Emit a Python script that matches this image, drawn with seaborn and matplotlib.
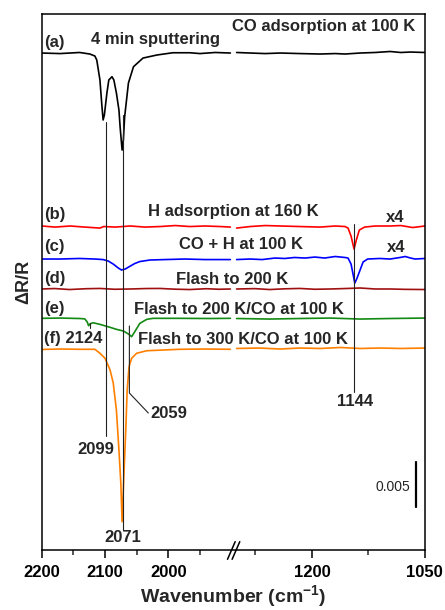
import numpy as np
import pandas as pd
import seaborn as sns
import matplotlib.pyplot as plt
from matplotlib import transforms

# dR/R in units of 1e-3, each curve = stacking offset + deviation
# (a) CO adsorption after 4 min sputtering
a_left_wn = [2200, 2171, 2140, 2124, 2116, 2113, 2108, 2105, 2103, 2101, 2097, 2094, 2089, 2086,
             2082, 2078, 2076, 2073, 2071, 2069, 2063, 2055, 2040, 2018, 1993, 1966, 1950, 1926, 1902]
a_left_dev = [0, -0.06, 0.06, -0.11, -0.33, -0.78, -3.0, -5.78, -7.44, -6.89, -4.44, -3.0, -2.63, -3.0,
              -4.44, -6.33, -8.33, -10.78, -9.67, -7.11, -3.33, -1.52, -0.56, -0.22, 0.03, 0.03, -0.06, 0.06, 0]
a_right_wn = [1300, 1282, 1262, 1242, 1216, 1189, 1169, 1156, 1136, 1116, 1096, 1082, 1069, 1050]
a_right_dev = [0.06, 0, -0.06, 0, -0.06, -0.11, -0.06, -0.11, 0, 0.06, 0.17, 0.06, 0.11, 0.06]

# (b) H adsorption at 160 K
b_left_wn = [2200, 2179, 2155, 2132, 2108, 2102, 2084, 2060, 2037, 2013, 1989, 1966, 1942, 1918, 1902]
b_left_dev = [0.06, -0.06, 0.06, -0.06, -0.17, 0, -0.06, 0.06, -0.06, 0, 0.11, 0, 0.06, 0, -0.06]
b_right_wn = [1300, 1282, 1262, 1242, 1216, 1189, 1169, 1156, 1152, 1148, 1144, 1141, 1137, 1130,
              1116, 1096, 1082, 1066, 1050]
b_right_dev = [-0.17, 0, 0.11, 0.06, 0, -0.06, 0.06, 0, -0.17, -1.06, -2.5, -1.5, -0.39, -0.06,
               0.06, 0.06, 0.11, -0.11, 0.06]

# (c) CO + H at 100 K
c_left_wn = [2200, 2171, 2140, 2116, 2103, 2095, 2087, 2079, 2074, 2068, 2060, 2053, 2045, 2029,
             2005, 1974, 1942, 1902]
c_left_dev = [0, 0, 0.06, 0, -0.06, -0.22, -0.56, -1.0, -1.22, -1.11, -0.78, -0.5, -0.28, -0.11,
              -0.06, 0, -0.06, -0.06]
c_right_wn = [1300, 1282, 1266, 1249, 1236, 1223, 1209, 1196, 1183, 1169, 1156, 1152, 1148, 1143,
              1140, 1136, 1132, 1126, 1110, 1096, 1083, 1076, 1069, 1063, 1050]
c_right_dev = [-0.06, 0, -0.06, 0.11, 0.06, 0.17, 0.11, 0.22, 0.11, 0.28, 0.17, 0.11, -0.56, -2.67,
               -2.11, -1.22, -0.33, 0, 0.06, 0, 0.17, 0.28, 0.11, 0, 0.06]

# (d) flash to 200 K
d_left_wn = [2200, 2180, 2156, 2130, 2108, 2085, 2060, 2035, 2013, 1990, 1966, 1940, 1920, 1902]
d_left_dev = [0, 0.05, -0.06, 0.03, 0.06, -0.03, 0, 0.05, 0.06, -0.02, -0.06, 0.03, -0.03, 0]
d_right_wn = [1300, 1276, 1256, 1236, 1216, 1196, 1176, 1156, 1136, 1116, 1096, 1076, 1050]
d_right_dev = [0, 0.04, -0.06, 0.02, 0.06, -0.03, 0, 0.05, 0.11, 0, 0, -0.04, -0.06]

# (e) flash to 200 K / CO at 100 K
e_left_wn = [2200, 2171, 2140, 2132, 2128, 2126, 2124, 2119, 2108, 2092, 2082, 2071, 2062, 2058,
             2053, 2045, 2034, 2024, 1982, 1934, 1902]
e_left_dev = [0, 0.03, -0.02, -0.06, -0.41, -0.82, -0.63, -0.49, -0.67, -1.0, -1.22, -1.41, -1.78, -2.04,
              -1.49, -0.56, -0.11, 0, 0, -0.02, 0]
e_right_wn = [1300, 1256, 1216, 1176, 1136, 1096, 1050]
e_right_dev = [-0.02, -0.08, -0.02, 0.03, -0.08, -0.02, 0.03]

# (f) flash to 300 K / CO at 100 K
f_left_wn = [2200, 2171, 2140, 2116, 2108, 2100, 2092, 2087, 2082, 2078, 2075, 2073, 2070, 2067,
             2065, 2062, 2058, 2050, 2034, 2008, 1982, 1942, 1902]
f_left_dev = [-0.02, 0.03, 0, 0, -0.44, -1.0, -2.3, -3.74, -6.74, -11.19, -14.86, -19.16, -13.78, -8.6,
              -4.52, -1.93, -1.0, -0.44, -0.16, -0.08, 0, 0.03, 0]
f_right_wn = [1300, 1270, 1242, 1216, 1189, 1162, 1136, 1109, 1082, 1050]
f_right_dev = [0.09, 0.14, 0.03, 0.14, 0.09, 0.2, 0.09, 0.14, 0.09, 0.14]

offsets = [55.22, 35.94, 32.33, 29.0, 25.74, 22.3]
colors = ["black", "#ff0000", "#0000ff", "#a01010", "#138a13", "#ff8000"]
tags = ["(a)", "(b)", "(c)", "(d)", "(e)", "(f) 2124"]
captions = ["4 min sputtering", "H adsorption at 160 K", "CO + H at 100 K", "Flash to 200 K",
            "Flash to 200 K/CO at 100 K", "Flash to 300 K/CO at 100 K"]

peak_labels = ["2099", "2071", "2059", "1144"]
scale_bar = 5.0  # 0.005

major_ticks = [2200, 2100, 2000, 1200, 1050]
minor_ticks = [2150, 2050, 1950, 1275, 1125]

curves = [
    (a_left_wn, a_left_dev, a_right_wn, a_right_dev),
    (b_left_wn, b_left_dev, b_right_wn, b_right_dev),
    (c_left_wn, c_left_dev, c_right_wn, c_right_dev),
    (d_left_wn, d_left_dev, d_right_wn, d_right_dev),
    (e_left_wn, e_left_dev, e_right_wn, e_right_dev),
    (f_left_wn, f_left_dev, f_right_wn, f_right_dev),
]

sns.set_style("ticks")
plt.rcParams["font.family"] = ["Liberation Sans", "DejaVu Sans"]
plt.rcParams["mathtext.fontset"] = "custom"
plt.rcParams["mathtext.rm"] = "Liberation Sans:bold"
plt.rcParams["mathtext.default"] = "rm"

fig = plt.figure(figsize=(4.45, 6.10), dpi=100)
ax = fig.add_axes([0.0937, 0.0984, 0.861, 0.8787])

for i, (lw_, ld, rw, rd) in enumerate(curves):
    for wn, dev in [(lw_, ld), (rw, rd)]:
        df = pd.DataFrame({"wn": wn, "val": np.array(dev) + offsets[i]})
        sns.lineplot(data=df, x="wn", y="val", ax=ax, color=colors[i], lw=1.2,
                     sort=False, estimator=None)

# peak marker lines
lc = dict(color="#222222", lw=0.8)
ax.plot([2099, 2099], [47.56, 12.67], **lc)
ax.plot([2071.5, 2071.5], [48.33, 2.22], **lc)
ax.plot([2061.5, 2061.5, 2031.6], [24.89, 17.44, 15.22], **lc)
ax.plot([2124, 2124], [25.19, 24.63], **lc)
ax.plot([1144, 1144], [36.2, 17.56], **lc)

# scale bar
ax.plot([1062, 1062], [4.78, 4.78 + scale_bar], color="black", lw=1.6)

# broken x axis: piecewise linear mapping (increasing), axis inverted by xlim
xp_wn = [1050, 1300, 1900, 2200]
xp_pos = [0, 0.4913, 0.5043, 1]


def fwd(x):
    return np.interp(x, xp_wn, xp_pos)


def inv(p):
    return np.interp(p, xp_pos, xp_wn)


ax.set_xscale("function", functions=(fwd, inv))
ax.set_xlim(2200, 1050)
ax.set_ylim(0, 59.56)

ax.set_xticks(major_ticks)
ax.set_xticklabels([str(t) for t in major_ticks], fontsize=12, fontweight="bold")
ax.set_xticks(minor_ticks, minor=True)
ax.set_yticks([])
ax.tick_params(axis="x", which="major", direction="out", length=6, width=1.1, pad=5, colors="black")
ax.tick_params(axis="x", which="minor", direction="out", length=3.5, width=1.1)
for s in ax.spines.values():
    s.set_color("black")
    s.set_linewidth(1.1)

ax.set_xlabel("Wavenumber (cm$^{-1}$)", fontsize=14, fontweight="bold", labelpad=2)
ax.set_ylabel("\u0394R/R", fontsize=13, fontweight="bold", labelpad=7)

# axis break marks
for x0 in (0.485, 0.497):
    ax.plot([x0, x0 + 0.02], [-0.0174, 0.0155], transform=ax.transAxes, color="black",
            lw=1.1, clip_on=False)

# texts: x in axes fraction, y in data
tr = transforms.blended_transform_factory(ax.transAxes, ax.transData)
tk = dict(fontsize=12, fontweight="bold", transform=tr, va="center")
tag_y = [56.37, 37.33, 33.7, 30.19, 26.86, 23.52]
cap_x = [0.298, 0.501, 0.52, 0.496, 0.516, 0.525]
cap_y = [56.67, 37.56, 33.89, 30.08, 26.74, 23.41]
for i in range(6):
    ax.text(0.006, tag_y[i], tags[i], ha="left", **tk)
    ax.text(cap_x[i], cap_y[i], captions[i], ha="center", **tk)

ax.text(0.737, 58.14, "CO adsorption at 100 K", ha="center", **tk)
ax.text(0.922, 36.89, "x4", ha="center", **tk)
ax.text(0.924, 33.56, "x4", ha="center", **tk)
ax.text(0.141, 11.19, peak_labels[0], ha="center", **tk)
ax.text(0.213, 1.41, peak_labels[1], ha="center", **tk)
ax.text(0.283, 15.19, peak_labels[2], ha="left", **tk)
ax.text(0.818, 16.48, peak_labels[3], ha="center", **tk)
ax.text(0.961, 6.97, "0.005", ha="right", va="center", fontsize=10, transform=tr)

fig.savefig("out.png", dpi=100)
